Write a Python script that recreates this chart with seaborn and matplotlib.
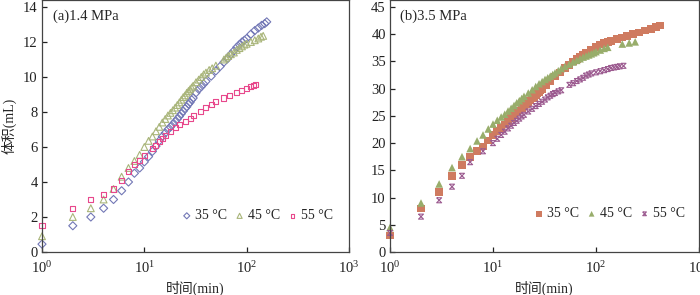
import matplotlib
matplotlib.use("Agg")
import matplotlib.pyplot as plt
import pandas as pd
import seaborn as sns

# (a) 1.4 MPa
t_a35 = [1, 2, 3, 4, 5, 6, 7, 8, 9, 10, 11, 12, 13, 14, 15, 16, 17, 18, 19, 20,
         21, 22, 23, 24, 25, 26, 27, 28, 29, 30, 32, 34, 36, 38, 40, 45, 50, 55, 60, 65,
         70, 75, 80, 85, 90, 95, 100, 110, 120, 130, 140, 150, 157]
v_a35 = [0.45, 1.5, 2.0, 2.5, 3.0, 3.5, 4.0, 4.5, 4.8, 5.15, 5.45, 5.75, 6.05, 6.35, 6.6, 6.8, 7.0, 7.15, 7.3, 7.45,
         7.6, 7.75, 7.9, 8.05, 8.2, 8.3, 8.45, 8.55, 8.7, 8.8, 9.1, 9.3, 9.45, 9.6, 9.75, 10.05, 10.35, 10.6, 10.85, 11.05,
         11.3, 11.5, 11.7, 11.85, 12.0, 12.1, 12.2, 12.45, 12.65, 12.8, 12.95, 13.05, 13.15]

t_a45 = [1, 2, 3, 4, 5, 6, 7, 8, 9, 10, 11, 12, 13, 14, 15, 16, 17, 18, 19, 20,
         21, 22, 23, 24, 25, 26, 27, 28, 29, 30, 32, 34, 36, 38, 40, 43, 46, 50, 60, 63,
         66, 70, 75, 80, 85, 90, 95, 100, 110, 120, 130, 138, 145]
v_a45 = [0.9, 2.0, 2.5, 3.0, 3.6, 4.3, 4.8, 5.2, 5.55, 6.0, 6.35, 6.6, 6.9, 7.15, 7.4, 7.6, 7.8, 7.95, 8.1, 8.25,
         8.4, 8.55, 8.7, 8.85, 8.95, 9.1, 9.2, 9.3, 9.4, 9.5, 9.7, 9.85, 10.0, 10.15, 10.25, 10.4, 10.5, 10.65, 11.0, 11.1,
         11.2, 11.3, 11.4, 11.55, 11.65, 11.75, 11.85, 11.9, 12.0, 12.1, 12.2, 12.3, 12.35]

t_a55 = [1, 2, 3, 4, 5, 6, 7, 8, 9, 10, 12, 13, 14, 15, 16, 18, 20, 22, 25, 28,
         30, 35, 40, 45, 50, 60, 68, 80, 90, 100, 110, 116, 123]
v_a55 = [1.5, 2.5, 3.0, 3.3, 3.6, 4.1, 4.6, 5.0, 5.25, 5.5, 5.9, 6.1, 6.3, 6.5, 6.65, 6.9, 7.1, 7.3, 7.45, 7.65,
         7.8, 8.05, 8.25, 8.45, 8.6, 8.8, 8.95, 9.1, 9.25, 9.35, 9.45, 9.5, 9.55]

# (b) 3.5 MPa
t_b35 = [1, 2, 3, 4, 5, 6, 7, 8, 9, 10, 11, 12, 13, 14, 15, 16, 17, 18, 19, 20,
         21, 22, 23, 24, 25, 26, 27, 28, 29, 30, 33, 36, 40, 45, 50, 55, 60, 65, 70, 75,
         80, 90, 100, 110, 120, 130, 140, 160, 180, 200, 230, 260, 300, 340, 380, 420]
v_b35 = [3.0, 8.0, 11.0, 14.0, 16.0, 17.5, 18.5, 19.4, 20.5, 21.5, 22.2, 22.8, 23.4, 24.0, 24.6, 25.1, 25.6, 26.0, 26.4, 26.8,
         27.15, 27.5, 27.85, 28.2, 28.5, 28.8, 29.1, 29.4, 29.65, 29.9, 30.6, 31.3, 32.2, 33.0, 33.8, 34.4, 35.0, 35.5, 35.9, 36.3,
         36.6, 37.2, 37.7, 38.1, 38.4, 38.6, 38.8, 39.1, 39.4, 39.7, 40.0, 40.3, 40.7, 41.0, 41.3, 41.6]

t_b45 = [1, 2, 3, 4, 5, 6, 7, 8, 9, 10, 11, 12, 13, 14, 15, 16, 17, 18, 19, 20,
         22, 24, 26, 28, 30, 32, 34, 36, 38, 40, 43, 46, 50, 55, 60, 65, 70, 75, 80, 85,
         90, 95, 100, 110, 120, 130, 180, 210, 240]
v_b45 = [4.5, 9.0, 12.5, 15.5, 17.5, 19.0, 20.4, 21.5, 22.6, 23.5, 24.2, 24.8, 25.3, 25.9, 26.4, 26.9, 27.4, 27.8, 28.2, 28.6,
         29.2, 29.8, 30.4, 30.9, 31.3, 31.7, 32.0, 32.3, 32.6, 32.9, 33.3, 33.7, 34.1, 34.5, 34.9, 35.2, 35.5, 35.8, 36.0, 36.2,
         36.4, 36.6, 36.8, 37.1, 37.4, 37.6, 38.2, 38.4, 38.6]

t_b55 = [1, 2, 3, 4, 5, 6, 8, 10, 11, 12, 13, 14, 15, 16, 17, 18, 19, 20, 22, 24,
         26, 28, 30, 32, 34, 36, 38, 40, 43, 46, 55, 60, 65, 70, 75, 80, 85, 90, 100, 110,
         120, 130, 140, 150, 160, 170, 185]
v_b55 = [3.5, 6.5, 9.5, 12.0, 14.0, 16.5, 18.5, 20.0, 20.8, 21.5, 22.1, 22.7, 23.2, 23.7, 24.1, 24.5, 24.9, 25.2, 25.8, 26.3,
         26.8, 27.2, 27.6, 28.0, 28.4, 28.7, 29.0, 29.2, 29.5, 29.7, 30.7, 31.0, 31.4, 31.7, 32.0, 32.4, 32.6, 32.8, 33.0, 33.2,
         33.4, 33.6, 33.8, 33.9, 34.0, 34.1, 34.2]

labels = ["35 \u00b0C", "45 \u00b0C", "55 \u00b0C"]
x_ticks = [1, 10, 100, 1000]

sns.set_style("ticks")
plt.rcParams["font.family"] = ["Liberation Serif", "Noto Sans CJK SC"]
plt.rcParams["mathtext.fontset"] = "custom"
plt.rcParams["mathtext.rm"] = "Liberation Serif"
plt.rcParams["font.size"] = 10
plt.rcParams["axes.edgecolor"] = "#444444"
plt.rcParams["axes.linewidth"] = 0.9

hourglass = [(-1, 1), (1, 1), (-1, -1), (1, -1), (-1, 1)]

fig = plt.figure(figsize=(7, 2.95), dpi=100)
# axes run from the figure top down to y=252 px
ax1 = fig.add_axes([42 / 700, 43 / 295, 307 / 700, 252 / 295])
ax2 = fig.add_axes([390 / 700, 43 / 295, 309 / 700, 252 / 295])

# panel a: open markers
series_a = [
    (t_a35, v_a35, "D", "#7378b6", 17),
    (t_a45, v_a45, "^", "#a9b57a", 24),
    (t_a55, v_a55, "s", "#e8488c", 13),
]
for (t, v, m, c, s), lab in zip(series_a, labels):
    df = pd.DataFrame({"t": t, "v": v})
    sns.scatterplot(data=df, x="t", y="v", ax=ax1, marker=m, s=s, color=c,
                    facecolor="none", edgecolor=c, linewidth=0.8, label=lab, clip_on=False)

# panel b: filled markers
series_b = [
    (t_b35, v_b35, "s", "#cf7b60", 30, "none"),
    (t_b45, v_b45, "^", "#98ad6b", 30, "none"),
    (t_b55, v_b55, hourglass, "#9c5b90", 13, None),
]
for (t, v, m, c, s, ec), lab in zip(series_b, labels):
    df = pd.DataFrame({"t": t, "v": v})
    if ec is None:
        sns.scatterplot(data=df, x="t", y="v", ax=ax2, marker=m, s=s, color=c,
                        facecolor="none", edgecolor=c, linewidth=0.8, label=lab, clip_on=False)
    else:
        sns.scatterplot(data=df, x="t", y="v", ax=ax2, marker=m, s=s, color=c,
                        edgecolor=ec, linewidth=0, label=lab, clip_on=False)

legend_pos = {ax1: (0.458, 0.143), ax2: (0.468, 0.151)}
for ax, ymax, ystep in [(ax1, 14, 2), (ax2, 45, 5)]:
    ax.set_xscale("log")
    ax.set_xlim(1, 1000)
    ax.set_ylim(0, ymax * 252 / 245)
    ax.set_xticks(x_ticks)
    ax.set_yticks(range(0, ymax + 1, ystep))
    ax.minorticks_off()
    ax.tick_params(axis="both", direction="in", length=3.5, width=0.9, labelsize=10.5, colors="#222222")
    ax.tick_params(axis="x", pad=6)
    ax.tick_params(axis="y", pad=3)
    for sp in ax.spines.values():
        sp.set_visible(True)
    ax.set_xlabel("时间(min)", fontsize=10, labelpad=3)
    ax.legend(loc="center left", ncol=3, frameon=False, fontsize=10,
              bbox_to_anchor=legend_pos[ax], borderpad=0, borderaxespad=0,
              handlelength=0.6, handletextpad=0.3, columnspacing=0.6, markerscale=0.75)

ax1.set_ylabel("体积(mL)", fontsize=10, labelpad=5)
ax2.set_ylabel("")
ax1.text(0.035, 0.937, "(a)1.4 MPa", transform=ax1.transAxes, fontsize=10.5, va="center")
ax2.text(0.032, 0.937, "(b)3.5 MPa", transform=ax2.transAxes, fontsize=10.5, va="center")

fig.savefig("out.png", dpi=100)
